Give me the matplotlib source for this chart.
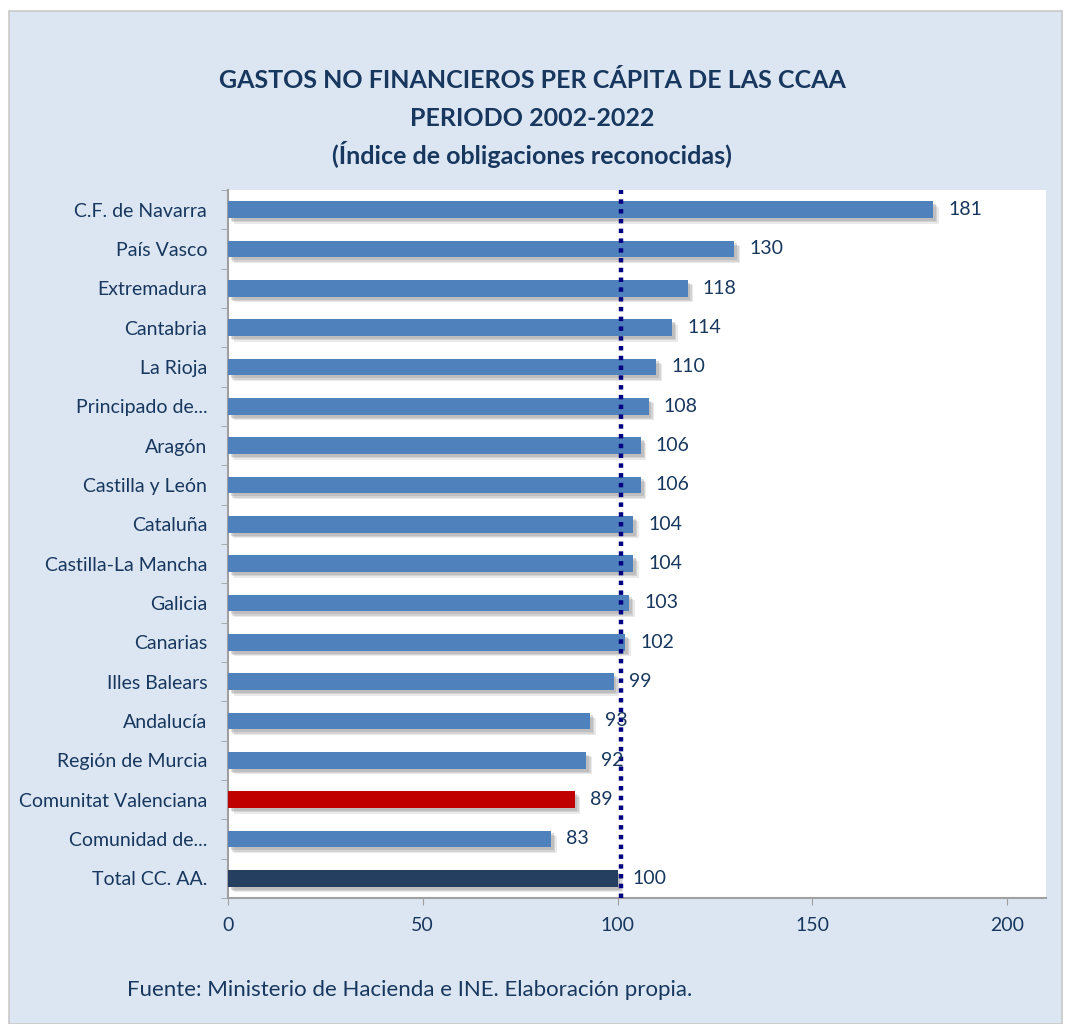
import matplotlib
matplotlib.use("Agg")
import matplotlib.pyplot as plt
import matplotlib.patheffects as pe
from matplotlib.patches import Rectangle

categories = ["C.F. de Navarra", "País Vasco", "Extremadura", "Cantabria", "La Rioja",
              "Principado de...", "Aragón", "Castilla y León", "Cataluña",
              "Castilla-La Mancha", "Galicia", "Canarias", "Illes Balears", "Andalucía",
              "Región de Murcia", "Comunitat Valenciana", "Comunidad de...", "Total CC. AA."]
values = [181, 130, 118, 114, 110, 108, 106, 106, 104, 104, 103, 102, 99, 93, 92, 89, 83, 100]
ref_line = 101
bar_colors = ["#4f81bd"] * 15 + ["#c00000", "#4f81bd", "#243f60"]

FONT = ["Lato", "DejaVu Sans"]
TXT = "#17375e"
BG = "#dce6f2"

fig = plt.figure(figsize=(10.67, 10.24), dpi=100)
W, H = 1067, 1024
fig.patch.set_facecolor("white")
fig.add_artist(Rectangle((9 / W, 0), (1062 - 9) / W, (H - 11) / H, transform=fig.transFigure,
                         facecolor=BG, edgecolor="#c8c8c8", linewidth=1.2, zorder=-10))

left, right, top, bottom = 228, 1046, 190, 898
ax = fig.add_axes([left / W, 1 - bottom / H, (right - left) / W, (bottom - top) / H])
ax.set_facecolor("white")

n = len(categories)
ypos = list(range(n))
shadow = [pe.SimplePatchShadow(offset=(4, -4), shadow_rgbFace="#909090", alpha=0.18),
          pe.SimplePatchShadow(offset=(3, -3), shadow_rgbFace="#909090", alpha=0.25),
          pe.SimplePatchShadow(offset=(2, -2), shadow_rgbFace="#909090", alpha=0.3),
          pe.Normal()]
bars = ax.barh(ypos, values, height=0.43, color=bar_colors, zorder=3)
for b in bars:
    b.set_path_effects(shadow)

ax.axvline(ref_line, color="#000080", linewidth=3.2, linestyle=(0, (1, 1.2)), zorder=4)

for y, v in zip(ypos, values):
    ax.annotate(str(v), (v, y), xytext=(15, 0), textcoords="offset pixels",
                va="center", ha="left", fontsize=14, color=TXT, family=FONT, zorder=5)

ax.set_xlim(0, 210)
ax.set_ylim(n - 0.5, -0.5)
ax.set_yticks(ypos)
ax.set_yticklabels(categories, family=FONT, fontsize=14, color=TXT)
ax.set_yticks([i - 0.5 for i in range(n + 1)], minor=True)
ax.tick_params(axis="y", which="major", length=0, pad=15)
ax.tick_params(axis="y", which="minor", length=5, color="#a0a0a0", direction="out")
ax.set_xticks([0, 50, 100, 150, 200])
ax.set_xticklabels(["0", "50", "100", "150", "200"], family=FONT, fontsize=14, color=TXT)
ax.tick_params(axis="x", length=5, color="#a0a0a0", pad=9)
for s in ["top", "right"]:
    ax.spines[s].set_visible(False)
for s in ["left", "bottom"]:
    ax.spines[s].set_color("#a0a0a0")
    ax.spines[s].set_linewidth(1.5)

fig.text(532 / W, 1 - 80 / H, "GASTOS NO FINANCIEROS PER CÁPITA DE LAS CCAA", ha="center", va="center",
         fontsize=18, fontweight="bold", color=TXT, family=FONT)
fig.text(532 / W, 1 - 118 / H, "PERIODO 2002-2022", ha="center", va="center",
         fontsize=18, fontweight="bold", color=TXT, family=FONT)
fig.text(532 / W, 1 - 154 / H, "(Índice de obligaciones reconocidas)", ha="center", va="center",
         fontsize=18, fontweight="bold", color=TXT, family=FONT)
fig.text(127 / W, 1 - 990 / H, "Fuente: Ministerio de Hacienda e INE. Elaboración propia.",
         ha="left", va="center", fontsize=16, color=TXT, family=FONT)

fig.savefig("out.png", dpi=100, facecolor=fig.get_facecolor())
